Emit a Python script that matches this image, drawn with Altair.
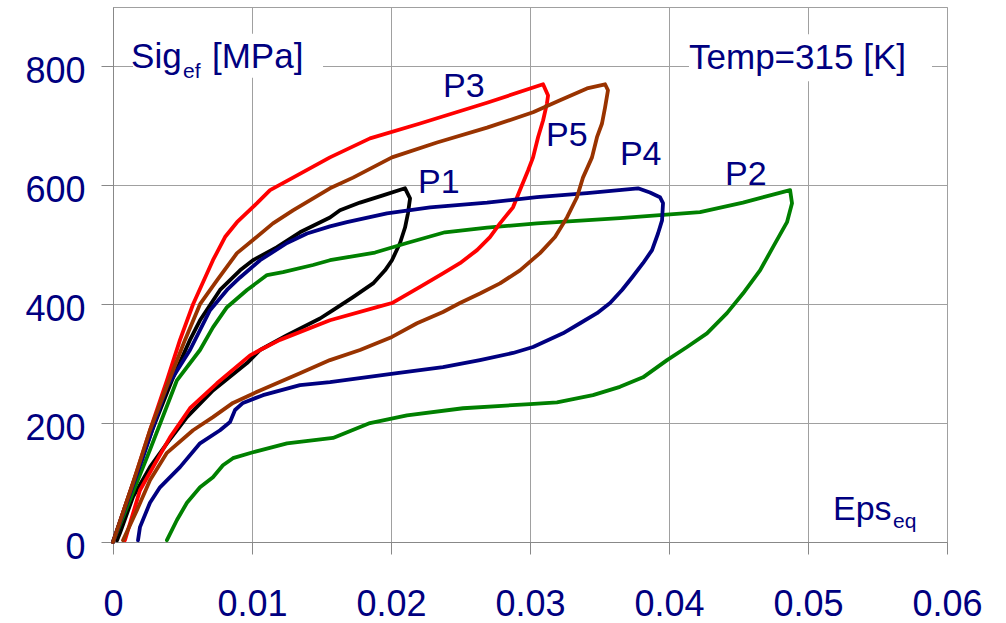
import altair as alt
import pandas as pd

# ---- series data (Eps_eq, Sig_ef [MPa]) ----
p1_eps = [0, 0.00144, 0.00281, 0.00424, 0.00554, 0.00626, 0.0077, 0.00914, 0.01007, 0.0118, 0.01345,
          0.01561, 0.01633, 0.01777, 0.01942, 0.02101, 0.02137, 0.02122, 0.02101, 0.02065, 0.02007,
          0.01957, 0.01871, 0.01727, 0.01583, 0.01489, 0.01252, 0.01058, 0.00964, 0.00719, 0.00532,
          0.00388, 0.00266, 0.00144, 0.0005, 0.00029]
p1_sig = [0, 99, 188, 272, 340, 373, 424, 457, 474, 496, 521,
          546, 558, 571, 583, 595, 578, 553, 529, 503, 474,
          457, 435, 412, 390, 376, 348, 323, 301, 255, 210,
          166, 126, 76, 15, 3]

p2_eps = [0, 0.00266, 0.0046, 0.00626, 0.00719, 0.0082, 0.00964, 0.01108, 0.01223, 0.01439, 0.01561,
          0.01885, 0.02115, 0.02388, 0.02691, 0.0305, 0.03647, 0.03935, 0.04223, 0.04532, 0.04871,
          0.04885, 0.04849, 0.04748, 0.04655, 0.04532, 0.04417, 0.04273, 0.0413, 0.03986, 0.03813,
          0.03647, 0.03453, 0.03194, 0.03, 0.02518, 0.02115, 0.01849, 0.01583, 0.01252, 0.01007,
          0.00863, 0.00791, 0.00719, 0.00626, 0.00532, 0.0046, 0.00388]
p2_sig = [0, 155, 272, 323, 361, 395, 424, 449, 454, 466, 474,
          487, 503, 521, 529, 536, 545, 550, 555, 571, 592,
          570, 538, 496, 457, 418, 385, 351, 328, 306, 277,
          261, 247, 235, 232, 225, 213, 200, 175, 166, 151,
          141, 129, 109, 92, 66, 37, 3]

p3_eps = [0, 0.00144, 0.00266, 0.00388, 0.00482, 0.00576, 0.00719, 0.00806, 0.00892, 0.01036, 0.0113,
          0.01295, 0.01561, 0.01849, 0.02209, 0.02691, 0.03094, 0.0313, 0.03122, 0.03094, 0.03058,
          0.03022, 0.02986, 0.02928, 0.02878, 0.02784, 0.02712, 0.02619, 0.02496, 0.02374, 0.02209,
          0.02007, 0.01899, 0.01561, 0.01201, 0.01058, 0.00986, 0.00748, 0.00554, 0.0041, 0.00288,
          0.00194, 0.00086]
p3_sig = [0, 99, 188, 272, 340, 400, 474, 513, 538, 570, 592,
          613, 647, 679, 704, 739, 770, 751, 738, 709, 681,
          647, 625, 592, 563, 536, 513, 491, 469, 452, 429,
          402, 395, 373, 340, 323, 314, 267, 225, 176, 126,
          87, 3]

p4_eps = [0, 0.00216, 0.00388, 0.00554, 0.00698, 0.0082, 0.00914, 0.01058, 0.01252, 0.01396, 0.01561,
          0.01683, 0.01971, 0.02281, 0.02691, 0.0305, 0.0341, 0.03777, 0.03863, 0.03935, 0.03957,
          0.0395, 0.03921, 0.03878, 0.03813, 0.03734, 0.03662, 0.03576, 0.03482, 0.0336, 0.03237,
          0.03022, 0.02878, 0.0264, 0.02374, 0.02043, 0.01561, 0.01345, 0.01079, 0.00935, 0.00878,
          0.00842, 0.0077, 0.00626, 0.00482, 0.00338, 0.00266, 0.00194, 0.0018]
p4_sig = [0, 143, 261, 323, 390, 424, 445, 474, 503, 519, 531,
          538, 553, 563, 571, 580, 587, 595, 588, 580, 570,
          541, 519, 491, 469, 445, 424, 402, 385, 368, 351,
          328, 318, 306, 294, 284, 269, 264, 247, 234, 222,
          202, 188, 166, 126, 92, 66, 25, 3]

p5_eps = [0, 0.00144, 0.00266, 0.00396, 0.00518, 0.00626, 0.00748, 0.00892, 0.01007, 0.01151, 0.01295,
          0.01561, 0.01727, 0.02007, 0.02331, 0.02691, 0.03022, 0.03216, 0.0341, 0.0354, 0.03561,
          0.0354, 0.03518, 0.03482, 0.03446, 0.03381, 0.03338, 0.03266, 0.0318, 0.03072, 0.02928,
          0.02784, 0.0264, 0.02496, 0.02374, 0.02187, 0.02007, 0.01777, 0.01561, 0.01345, 0.01058,
          0.00863, 0.00719, 0.00576, 0.00388, 0.00266, 0.00173, 0.00072]
p5_sig = [0, 99, 188, 267, 340, 400, 440, 486, 508, 536, 558,
          595, 613, 647, 672, 697, 723, 743, 763, 770, 760,
          731, 704, 681, 647, 613, 580, 546, 513, 486, 457,
          435, 418, 402, 387, 368, 345, 323, 306, 284, 255,
          234, 210, 188, 150, 104, 54, 3]

series_names = ["P1", "P2", "P3", "P4", "P5"]
series_colors = ["#000000", "#008000", "#ff0000", "#000080", "#993300"]

x_ticks = [0, 0.01, 0.02, 0.03, 0.04, 0.05, 0.06]
y_ticks = [0, 200, 400, 600, 800]

# annotation texts (data coordinates)
head_text = ["Sig", "[MPa]", "Temp=315 [K]"]
head_x = [0.0013, 0.00712, 0.04144]
head_y = [798, 797, 795]
big_text = ["P3", "P5", "P4", "P1", "P2", "Eps"]
big_x = [0.02374, 0.03115, 0.03647, 0.02194, 0.04403, 0.0518]
big_y = [748, 667, 635, 587, 600, 37]
small_text = ["ef", "eq"]
small_x = [0.00504, 0.05612]
small_y = [781, 23]

# white boxes behind the two header labels
box_x = [0.00144, 0.04144]
box_x2 = [0.01511, 0.05892]
box_y = [781, 775]
box_y2 = [855, 854]

rows = []
for name, xs, ys in zip(series_names, [p1_eps, p2_eps, p3_eps, p4_eps, p5_eps],
                        [p1_sig, p2_sig, p3_sig, p4_sig, p5_sig]):
    for i, (xv, yv) in enumerate(zip(xs, ys)):
        rows.append({"series": name, "eps": xv, "sig": yv, "idx": i})
df = pd.DataFrame(rows)

df_head = pd.DataFrame({"eps": head_x, "sig": head_y, "label": head_text})
df_big = pd.DataFrame({"eps": big_x, "sig": big_y, "label": big_text})
df_small = pd.DataFrame({"eps": small_x, "sig": small_y, "label": small_text})
df_box = pd.DataFrame({"eps": box_x, "eps2": box_x2, "sig": box_y, "sig2": box_y2})

FONT = "Liberation Sans"
NAVY = "#000080"

xscale = alt.Scale(domain=[0, 0.06], nice=False, zero=False)
yscale = alt.Scale(domain=[0, 900], nice=False, zero=False)

xaxis = alt.Axis(values=x_ticks, format="~g", labelFont=FONT, labelFontSize=36, labelColor=NAVY,
                 tickSize=12, tickColor="#888888", domainColor="#888888", gridColor="#a0a0a0",
                 labelPadding=33, labelFlush=False, labelOverlap=False, title=None)
yaxis = alt.Axis(values=y_ticks, format="d", labelFont=FONT, labelFontSize=36, labelColor=NAVY,
                 tickSize=12, tickColor="#888888", domainColor="#888888", gridColor="#a0a0a0",
                 labelPadding=16, labelOffset=5, labelFlush=False, labelOverlap=False, title=None)

boxes = alt.Chart(df_box).mark_rect(color="white").encode(
    x=alt.X("eps:Q", scale=xscale, axis=xaxis, title=None),
    x2="eps2:Q",
    y=alt.Y("sig:Q", scale=yscale, axis=yaxis, title=None),
    y2="sig2:Q",
)

lines = alt.Chart(df).mark_line(strokeWidth=3.8, strokeJoin="round", strokeCap="round").encode(
    x=alt.X("eps:Q", scale=xscale, title=None),
    y=alt.Y("sig:Q", scale=yscale, title=None),
    color=alt.Color("series:N", scale=alt.Scale(domain=series_names, range=series_colors), legend=None),
    detail="series:N",
    order="idx:Q",
)


def text_layer(data, size):
    return alt.Chart(data).mark_text(font=FONT, fontSize=size, color=NAVY, align="left",
                                     baseline="alphabetic").encode(
        x=alt.X("eps:Q", scale=xscale, title=None),
        y=alt.Y("sig:Q", scale=yscale, title=None),
        text="label:N",
    )


chart = alt.layer(boxes, lines, text_layer(df_head, 35), text_layer(df_big, 34),
                  text_layer(df_small, 21)).properties(
    width=834, height=535,
    padding={"left": 113, "top": 7, "right": 59, "bottom": 81},
    autosize=alt.AutoSizeParams(type="none"),
).configure_view(stroke="#a0a0a0", strokeWidth=1)

chart.save("out.html", embed_options={"renderer": "svg", "actions": False})
